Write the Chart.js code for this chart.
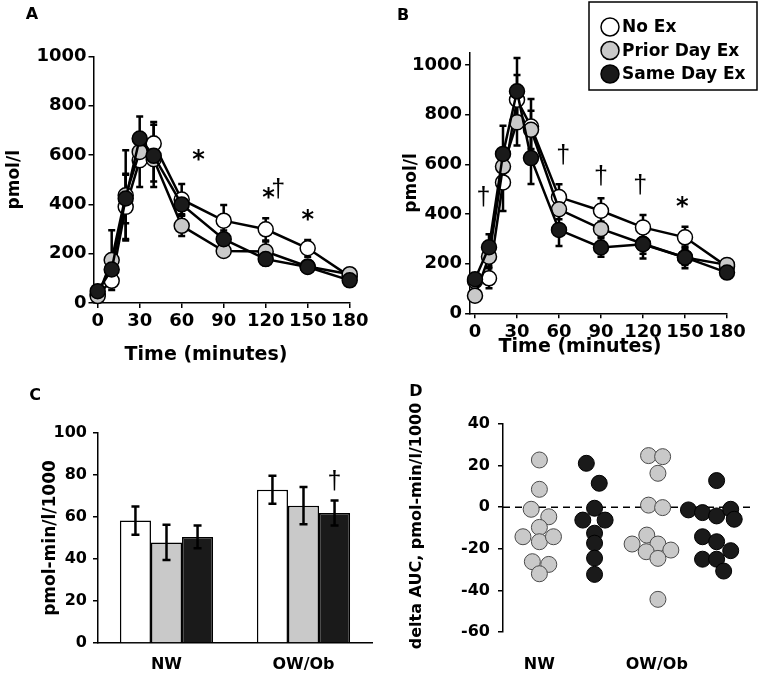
<!DOCTYPE html>
<html>
<head>
<meta charset="utf-8">
<title>Insulin response by exercise condition</title>
<script src="https://cdn.jsdelivr.net/npm/chart.js@4.4.0/dist/chart.umd.min.js"></script>
<style>
  body { margin: 0; background: #fff; }
  #page { position: relative; width: 762px; height: 684px; overflow: hidden; }
  #page canvas { position: absolute; }
</style>
</head>
<body>
<div id="page">
  <canvas id="chartA" width="380" height="370" style="left:0;top:0;width:380px;height:370px"></canvas>
  <canvas id="chartB" width="382" height="370" style="left:380px;top:0;width:382px;height:370px"></canvas>
  <canvas id="chartC" width="380" height="314" style="left:0;top:370px;width:380px;height:314px"></canvas>
  <canvas id="chartD" width="382" height="314" style="left:380px;top:370px;width:382px;height:314px"></canvas>
</div>
<script>
// ---- data ----
const seriesNames = ['No Ex', 'Prior Day Ex', 'Same Day Ex'];
const times = [0, 10, 20, 30, 40, 60, 90, 120, 150, 180];
const timeTicks = [0, 30, 60, 90, 120, 150, 180];
const insulinTicks = [0, 200, 400, 600, 800, 1000];

// Panel A
const aNoEx  = [35, 90, 390, 579, 647, 420, 334, 299, 222, 108];
const aPrior = [28, 174, 437, 613, 583, 313, 211, 209, 148, 117];
const aSame  = [48, 136, 424, 667, 597, 400, 259, 178, 146, 92];
const aNoExErr  = [10, 20, 130, 108, 87, 63, 64, 45, 34, 15];
const aPriorErr = [10, 121, 183, 60, 90, 41, 20, 40, 15, 15];
const aSameErr  = [10, 40, 100, 90, 126, 40, 35, 25, 15, 15];
const aMarks = [[72, 600, '*'], [122, 445, '*'], [129, 465, '†'], [150, 357, '*']];

// Panel B
const bNoEx  = [130, 141, 527, 860, 752, 468, 413, 346, 306, 188];
const bPrior = [71, 228, 591, 769, 739, 419, 340, 280, 225, 195];
const bSame  = [137, 266, 642, 894, 625, 336, 265, 278, 225, 164];
const bNoExErr  = [15, 40, 115, 100, 111, 52, 50, 50, 43, 15];
const bPriorErr = [15, 40, 60, 93, 77, 40, 30, 40, 30, 15];
const bSameErr  = [15, 52, 113, 134, 104, 65, 37, 57, 44, 15];
const bMarks = [[6, 470, '†'], [63, 641, '†'], [90, 557, '†'], [118, 517, '†'], [148, 449, '*']];

// Panel C (AUC)
const groups = ['NW', 'OW/Ob'];
const cNoEx  = [58.3, 73.0];
const cPrior = [47.9, 65.4];
const cSame  = [50.5, 61.9];
const cNoExErr  = [6.7, 6.7];
const cPriorErr = [8.4, 8.9];
const cSameErr  = [5.4, 6.0];
const aucTicks = [0, 20, 40, 60, 80, 100];

// Panel D (delta AUC, individual subjects)
const deltaTicks = [-60, -40, -20, 0, 20, 40];
const groupPos = [1, 2];
const dNwPrior  = [22.7, 8.6, -1.0, -4.6, -9.7, -14.2, -16.6, -14.2, -26.2, -27.5, -32];
const dNwPriorJit = [0, 0, -0.07, 0.08, 0, -0.14, 0, 0.12, -0.06, 0.08, 0];
const dNwSame   = [21.1, 11.5, -0.5, -6.2, -6.2, -12.5, -17.3, -24.5, -32.3];
const dNwSameJit = [-0.07, 0.04, 0, -0.1, 0.09, 0, 0, 0, 0];
const dOwPrior  = [24.8, 24.3, 16.3, 1.0, -0.2, -13.4, -17.7, -17.7, -21.4, -20.6, -24.6, -44.3];
const dOwPriorJit = [-0.07, 0.05, 0.01, -0.07, 0.05, -0.085, -0.21, 0.01, -0.09, 0.12, 0.01, 0.01];
const dOwSame   = [12.8, -1.3, -2.6, -4.2, -1.0, -5.8, -14.2, -16.6, -20.9, -25, -25, -30.7];
const dOwSameJit = [0, -0.24, -0.12, 0, 0.12, 0.15, -0.12, 0, 0.12, -0.12, 0, 0.06];
const sameOffset = 0.47;

// ---- styles ----
const WHITE = '#ffffff';
const GREY = '#c9c9c9';
const BLACK = '#1a1a1a';
Chart.defaults.font.family = "'DejaVu Sans', sans-serif";
Chart.defaults.color = '#000';
Chart.defaults.animation = false;

const bold = size => ({ size: size, weight: 'bold', family: "'DejaVu Sans', sans-serif" });

// ---- plugins ----
const errBars = {
    id: 'errBars',
    draw(chart, o) {
        const ctx = chart.ctx;
        const y = chart.scales.y;
        ctx.save();
        ctx.strokeStyle = '#000';
        ctx.lineWidth = o.width;
        o.errors.forEach((errs, di) => {
            const meta = chart.getDatasetMeta(di);
            const vals = chart.data.datasets[di].data;
            meta.data.forEach((el, i) => {
                const v = typeof vals[i] === 'object' ? vals[i].y : vals[i];
                const top = y.getPixelForValue(v + errs[i]);
                const bot = y.getPixelForValue(v - errs[i]);
                ctx.beginPath();
                ctx.moveTo(el.x, top); ctx.lineTo(el.x, bot);
                ctx.moveTo(el.x - o.cap, top); ctx.lineTo(el.x + o.cap, top);
                ctx.moveTo(el.x - o.cap, bot); ctx.lineTo(el.x + o.cap, bot);
                ctx.stroke();
            });
        });
        ctx.restore();
    },
    beforeDatasetsDraw(chart, args, o) { if (o.errors && !o.onTop) this.draw(chart, o); },
    afterDatasetsDraw(chart, args, o) { if (o.errors && o.onTop) this.draw(chart, o); }
};

const sigMarks = {
    id: 'sigMarks',
    afterDatasetsDraw(chart, args, o) {
        if (!o.items) return;
        const ctx = chart.ctx;
        ctx.save();
        ctx.fillStyle = '#000';
        ctx.textAlign = 'center';
        ctx.textBaseline = 'alphabetic';
        o.items.forEach(m => {
            const px = m.length > 3
                ? chart.getDatasetMeta(m[3]).data[m[0]].x
                : chart.scales.x.getPixelForValue(m[0]);
            const py = chart.scales.y.getPixelForValue(m[1]);
            ctx.font = m[2] === '*' ? 'bold 24px "DejaVu Sans"' : '25px "Liberation Sans"';
            const mt = ctx.measureText(m[2]);
            ctx.fillText(m[2], px, py + (mt.actualBoundingBoxAscent - mt.actualBoundingBoxDescent) / 2);
        });
        ctx.restore();
    }
};

const freeText = {
    id: 'freeText',
    afterDraw(chart, args, o) {
        if (!o.items) return;
        const ctx = chart.ctx;
        o.items.forEach(t => {
            ctx.save();
            ctx.translate(t.x, t.y);
            if (t.rotate) ctx.rotate(t.rotate);
            ctx.font = t.font;
            ctx.fillStyle = '#000';
            ctx.textAlign = 'center';
            ctx.textBaseline = 'middle';
            ctx.fillText(t.text, 0, 0);
            ctx.restore();
        });
    }
};

const legendBox = {
    id: 'legendBox',
    afterDraw(chart, args, o) {
        if (!o.show) return;
        const ctx = chart.ctx;
        ctx.save();
        ctx.strokeStyle = '#000';
        ctx.lineWidth = 1.5;
        ctx.strokeRect(o.left, o.top, o.width, o.height);
        ctx.font = 'bold 17px "DejaVu Sans"';
        ctx.textAlign = 'left';
        ctx.textBaseline = 'middle';
        chart.data.datasets.forEach((ds, i) => {
            const cy = o.top + o.firstRow + i * o.rowGap;
            ctx.beginPath();
            ctx.arc(o.left + o.markerX, cy, o.radius, 0, Math.PI * 2);
            ctx.fillStyle = ds.pointBackgroundColor;
            ctx.fill();
            ctx.lineWidth = 1.5;
            ctx.strokeStyle = '#000';
            ctx.stroke();
            ctx.fillStyle = '#000';
            ctx.fillText(ds.label, o.left + o.textX, cy + 1);
        });
        ctx.restore();
    }
};

const zeroLine = {
    id: 'zeroLine',
    beforeDatasetsDraw(chart, args, o) {
        if (!o.show) return;
        const ctx = chart.ctx;
        const y = chart.scales.y.getPixelForValue(0);
        ctx.save();
        ctx.setLineDash([7, 5]);
        ctx.lineWidth = 1.5;
        ctx.strokeStyle = '#000';
        ctx.beginPath();
        ctx.moveTo(chart.chartArea.left, y);
        ctx.lineTo(chart.chartArea.right, y);
        ctx.stroke();
        ctx.restore();
    }
};

const axisLine = { display: true, color: '#000', width: 1.5 };
const outerTicks = { display: true, drawOnChartArea: false, drawTicks: true, tickLength: 5, color: '#000', lineWidth: 1.5 };

// ---- panels A & B: insulin time course ----
function lineSet(label, values, fill, order) {
    return {
        label: label,
        data: times.map((t, i) => ({ x: t, y: values[i] })),
        order: order,
        borderColor: '#000',
        borderWidth: 2.5,
        pointRadius: 7.5,
        pointBorderWidth: 1.5,
        pointBorderColor: '#000',
        pointBackgroundColor: fill,
        tension: 0,
        clip: false
    };
}

function timeChart(id, values, errs, marks, L) {
    return new Chart(document.getElementById(id), {
        type: 'line',
        data: {
            datasets: [
                lineSet(seriesNames[0], values[0], WHITE, 3),
                lineSet(seriesNames[1], values[1], GREY, 2),
                lineSet(seriesNames[2], values[2], BLACK, 1)
            ]
        },
        options: {
            responsive: false,
            layout: { padding: L.padding },
            plugins: {
                legend: { display: false },
                tooltip: { enabled: false },
                errBars: { errors: errs, width: 2.5, cap: 3.5 },
                sigMarks: { items: marks },
                freeText: { items: L.texts },
                legendBox: L.legend
            },
            scales: {
                x: {
                    type: 'linear',
                    min: L.xMin,
                    max: 180,
                    afterBuildTicks: s => { s.ticks = timeTicks.map(v => ({ value: v })); },
                    afterFit: s => { s.height = L.xHeight; },
                    grid: outerTicks,
                    border: axisLine,
                    ticks: { font: bold(18), padding: 3, maxRotation: 0, autoSkip: false, callback: v => String(v) }
                },
                y: {
                    min: 0,
                    max: L.yMax,
                    afterBuildTicks: s => { s.ticks = insulinTicks.map(v => ({ value: v })); },
                    afterFit: s => { s.width = L.yWidth; },
                    grid: outerTicks,
                    border: axisLine,
                    ticks: { font: bold(18), padding: L.tickPad, callback: v => String(v) },
                    title: { display: true, text: 'pmol/l', font: bold(17), padding: { top: 4, bottom: 4 } }
                }
            }
        },
        plugins: [errBars, sigMarks, freeText, legendBox]
    });
}

timeChart('chartA', [aNoEx, aPrior, aSame], [aNoExErr, aPriorErr, aSameErr], aMarks, {
    padding: { left: 0, right: 30.3, top: 56.5, bottom: 0 },
    xMin: -3, yMax: 1000, yWidth: 93.5, xHeight: 67, tickPad: 2,
    texts: [
        { text: 'A', x: 32, y: 15, font: 'bold 16px "DejaVu Sans"' },
        { text: 'Time (minutes)', x: 206, y: 355, font: 'bold 19px "DejaVu Sans"' }
    ],
    legend: { show: false }
});

timeChart('chartB', [bNoEx, bPrior, bSame], [bNoExErr, bPriorErr, bSameErr], bMarks, {
    padding: { left: 17, right: 35, top: 52.6, bottom: 0 },
    xMin: -3.5, yMax: 1050, yWidth: 73.1, xHeight: 56.7, tickPad: 3,
    texts: [
        { text: 'B', x: 23, y: 16, font: 'bold 16px "DejaVu Sans"' },
        { text: 'Time (minutes)', x: 200, y: 347, font: 'bold 19px "DejaVu Sans"' }
    ],
    legend: { show: true, left: 209, top: 2, width: 168, height: 88, markerX: 21, textX: 33, firstRow: 25, rowGap: 23.5, radius: 9 }
});

// ---- panel C: AUC bars ----
function barSet(label, values, fill) {
    return {
        label: label,
        data: values,
        backgroundColor: fill,
        borderColor: '#000',
        borderWidth: 1.5,
        categoryPercentage: 0.68,
        barPercentage: 1.0
    };
}

new Chart(document.getElementById('chartC'), {
    type: 'bar',
    data: {
        labels: groups,
        datasets: [
            barSet(seriesNames[0], cNoEx, WHITE),
            barSet(seriesNames[1], cPrior, GREY),
            barSet(seriesNames[2], cSame, BLACK)
        ]
    },
    options: {
        responsive: false,
        layout: { padding: { left: 36, right: 8, top: 63, bottom: 0 } },
        plugins: {
            legend: { display: false },
            tooltip: { enabled: false },
            errBars: { errors: [cNoExErr, cPriorErr, cSameErr], width: 2.5, cap: 4, onTop: true },
            sigMarks: { items: [[1, 77.6, '†', 2]] },
            freeText: { items: [{ text: 'C', x: 35, y: 26, font: 'bold 16px "DejaVu Sans"' }] }
        },
        scales: {
            x: {
                afterFit: s => { s.height = 41; },
                grid: { display: false, drawTicks: false },
                border: axisLine,
                ticks: { font: bold(16), padding: 12 }
            },
            y: {
                min: 0,
                max: 100,
                afterBuildTicks: s => { s.ticks = aucTicks.map(v => ({ value: v })); },
                afterFit: s => { s.width = 62; },
                grid: outerTicks,
                border: axisLine,
                ticks: { font: bold(16), padding: 6 },
                title: { display: true, text: 'pmol-min/l/1000', font: bold(17), padding: { top: 4, bottom: 4 } }
            }
        }
    },
    plugins: [errBars, sigMarks, freeText]
});

// ---- panel D: delta AUC per subject ----
function dotSet(label, values, jitter, centre, fill, edge) {
    return {
        label: label,
        data: values.map((v, i) => ({ x: centre + jitter[i], y: v })),
        pointRadius: 8,
        pointBorderWidth: 1,
        pointBorderColor: edge,
        pointBackgroundColor: fill,
        clip: false
    };
}

new Chart(document.getElementById('chartD'), {
    type: 'scatter',
    data: {
        datasets: [
            dotSet(seriesNames[1], dNwPrior, dNwPriorJit, groupPos[0], GREY, '#4a4a4a'),
            dotSet(seriesNames[2], dNwSame, dNwSameJit, groupPos[0] + sameOffset, BLACK, '#000'),
            dotSet(seriesNames[1], dOwPrior, dOwPriorJit, groupPos[1], GREY, '#4a4a4a'),
            dotSet(seriesNames[2], dOwSame, dOwSameJit, groupPos[1] + sameOffset + 0.04, BLACK, '#000')
        ]
    },
    options: {
        responsive: false,
        layout: { padding: { left: 23, right: 0, top: 54, bottom: 0 } },
        plugins: {
            legend: { display: false },
            tooltip: { enabled: false },
            zeroLine: { show: true },
            freeText: {
                items: [
                    { text: 'D', x: 36, y: 22, font: 'bold 16px "DejaVu Sans"' },
                    { text: 'delta AUC, pmol-min/l/1000', x: 37, y: 156, rotate: -Math.PI / 2, font: 'bold 16px "DejaVu Sans"' }
                ]
            }
        },
        scales: {
            x: {
                type: 'linear',
                min: 0.69,
                max: 2.82,
                afterBuildTicks: s => { s.ticks = groupPos.map(v => ({ value: v })); },
                afterFit: s => { s.height = 52; },
                grid: { display: false, drawTicks: false },
                border: { display: false },
                ticks: { font: bold(16), padding: 23, autoSkip: false, maxRotation: 0, callback: v => groups[groupPos.indexOf(v)] }
            },
            y: {
                min: -60,
                max: 40,
                afterBuildTicks: s => { s.ticks = deltaTicks.map(v => ({ value: v })); },
                afterFit: s => { s.width = 100; },
                grid: outerTicks,
                border: axisLine,
                ticks: { font: bold(16), padding: 8, callback: v => String(v) }
            }
        }
    },
    plugins: [zeroLine, freeText]
});
</script>
</body>
</html>
